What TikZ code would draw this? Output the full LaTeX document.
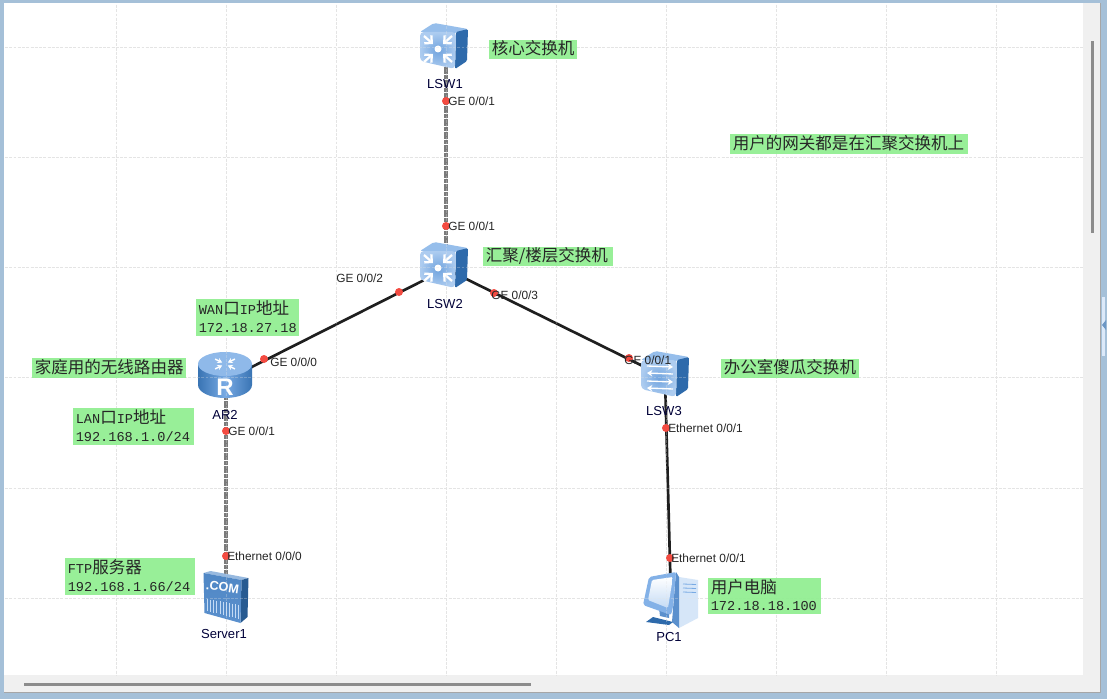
\documentclass[tikz,border=0pt]{standalone}
\usepackage{fontspec}
\setmainfont{Liberation Sans}
\newfontfamily\cjk{Noto Sans CJK SC}
\newfontfamily\monolatin{Liberation Mono}
\usetikzlibrary{arrows.meta,calc,positioning}
\definecolor{framecol}{RGB}{165,192,216}
\definecolor{barcol}{RGB}{240,240,240}
\definecolor{thumbcol}{RGB}{140,140,140}
\definecolor{gridcol}{RGB}{228,228,228}
\definecolor{notecol}{RGB}{144,238,144}
\definecolor{iconlight}{RGB}{196,219,245}
\definecolor{iconmid}{RGB}{120,170,228}
\definecolor{icondark}{RGB}{46,106,171}
\definecolor{linkgray}{RGB}{122,122,122}
\definecolor{dotred}{RGB}{243,75,65}
\tikzset{
  gridline/.style={draw=gridcol,line width=.7pt,dash pattern=on 2.2pt off 1pt},
  wirelink/.style={draw=black!88,line width=2pt},
  graylink/.style={draw=linkgray,line width=2.8pt,dash pattern=on 1.6pt off .35pt},
  portdot/.style={circle,fill=dotred,inner sep=0pt,minimum size=6pt},
  portlabel/.style={anchor=west,inner sep=0pt,font=\fontsize{8.9}{10}\selectfont,text=black!85},
  devlabel/.style={inner sep=0pt,font=\fontsize{9.8}{10}\selectfont,text=black!78!blue},
  notetext/.style={anchor=west,inner sep=0pt,align=left,text=black!85,
    font=\fontsize{12.4}{13.2}\selectfont\cjk},
}
\newcommand{\latn}[1]{{\monolatin\fontsize{10.2}{13.2}\selectfont #1}}
\newcommand{\notebox}[6]{%
  \fill[notecol,fill opacity=.92] (#2,#3) rectangle (#4,#5);
  \node[notetext] (#1) at ({#2+2.5},{(#3+#5)/2-1}) {#6};
}
\newcommand{\gridlines}[1]{%
  \foreach \gx in {116,226,336,446,556,666,776,886,996}{\draw[gridline,#1] (\gx,5) -- (\gx,675);}
  \foreach \gy in {47,157,267,377,488,598}{\draw[gridline,#1] (5,\gy) -- (1083,\gy);}
}
% block body shared by the two kinds of switch
\newcommand{\swbody}{%
  \fill[iconmid!60!iconlight,rounded corners=1.5pt] (-24,-14) -- (-10,-23) -- (24,-17) -- (12,-13) -- cycle;
  \fill[icondark,rounded corners=1pt] (12,-14) -- (24,-17) -- (23,15) -- (11,23) -- cycle;
  \shade[inner color=iconmid!90!icondark,outer color=iconlight!70!iconmid,rounded corners=3pt]
    (-24,-14) -- (12,-14) -- (11,23) -- (-24,15) -- cycle;
}
\newcommand{\coreicon}[2]{%
  \begin{scope}[shift={(#1,#2)}]
    \swbody
    \foreach \dx/\dy in {1/1,1/-1,-1/1,-1/-1}{
      \draw[white,line width=1.7pt,-{Straight Barb[length=4pt,width=8pt]}]
        ({-6+14*\dx},{3+13*\dy}) -- ({-6+5*\dx},{3+5*\dy});}
    \fill[white] (-6,3) circle (3.5);
  \end{scope}
}
\newcommand{\accessicon}[2]{%
  \begin{scope}[shift={(#1,#2)}]
    \swbody
    \foreach \ay/\tipa/\tipb in {-8/{}/{Stealth[length=4pt,width=5pt]},-1/{Stealth[length=4pt,width=5pt]}/{},
        7/{}/{Stealth[length=4pt,width=5pt]},14/{Stealth[length=4pt,width=5pt]}/{}}{
      \draw[white,line width=1pt,arrows={\tipa-\tipb}] (-18,\ay) -- (8,{\ay+1});}
  \end{scope}
}
\newcommand{\routericon}[3]{%
  \begin{scope}[shift={(#1,#2)}]
    \shade[left color=icondark!85!iconmid,right color=icondark!85!iconmid,middle color=iconmid]
      (-27,-11) -- (-27,10) arc[start angle=180,end angle=0,x radius=27,y radius=13]
      -- (27,-11) -- cycle;
    \fill[iconmid!70!iconlight] (0,-11) ellipse[x radius=27,y radius=12];
    \foreach \ra in {45,135,225,315}{
      \draw[white,line width=1.1pt,-{Stealth[length=3.5pt,width=4pt]}]
        ({14*cos(\ra)},{-11+7*sin(\ra)}) -- ({4*cos(\ra)},{-11+2*sin(\ra)});}
    \node[text=white,inner sep=0pt,font=\fontsize{18}{18}\selectfont\bfseries] (#3) at (0,12) {R};
  \end{scope}
}
\newcommand{\servericon}[3]{%
  \begin{scope}[shift={(#1,#2)}]
    \fill[iconlight!70!icondark] (-22,-24) -- (-15,-26) -- (23,-19) -- (16,-17) -- cycle;
    \fill[icondark!85!black] (16,-17) -- (23,-19) -- (22,20) -- (15,26) -- cycle;
    \shade[top color=iconmid!45!icondark,bottom color=iconmid!60!icondark]
      (-22,-24) -- (16,-17) -- (15,26) -- (-21,16) -- cycle;
    \node[text=white,inner sep=0pt,rotate=-8,font=\fontsize{9.5}{10}\selectfont\bfseries] (#3) at (-3,-10) {.COM};
    \foreach \bx in {-18,-15,-12,-9,-5,-2,1,4,7,10,13}{
      \draw[iconlight,line width=.7pt] (\bx,{2+(\bx+18)*.18}) -- (\bx,{14+(\bx+18)*.25});}
  \end{scope}
}
\newcommand{\pcicon}[2]{%
  \begin{scope}[shift={(#1,#2)}]
    \fill[iconlight!70!white] (10,-23) -- (29,-20) -- (29,18) -- (10,28) -- cycle;
    \fill[iconmid!60!icondark] (7,-28) -- (10,-23) -- (10,28) -- (3,22) -- cycle;
    \foreach \ty in {-16,-12,-8}{\draw[iconmid,line width=.6pt] (14,\ty) -- (27,{\ty+.5});}
    \fill[iconmid!60!icondark] (-10,8) -- (0,12) -- (0,18) -- (-9,16) -- cycle;
    \fill[icondark] (-16,17) -- (4,22) -- (0,25) -- (-23,22) -- cycle;
    \fill[iconmid!85!iconlight,rounded corners=1.5pt] (-20,-23) -- (7,-28) -- (4,7) -- (2,15) -- (-26,5) -- cycle;
    \shade[top color=white,bottom color=iconlight,rounded corners=1pt] (-17,-20) -- (4,-23) -- (-1,8) -- (-21,0) -- cycle;
  \end{scope}
}

\begin{document}
\begin{tikzpicture}[x=.75pt,y=-.75pt]
  \useasboundingbox (0,0) rectangle (1107,699);
  \fill[framecol] (0,0) rectangle (1107,699);
  \fill[white] (4,3) rectangle (1083,675);
  \fill[barcol] (1083,3) rectangle (1100,692);
  \fill[barcol] (4,675) rectangle (1100,692);
  \draw[black!35,line width=.8pt] (4,692.5) -- (1100.5,692.5) -- (1100.5,3);
  \fill[iconlight!60!white] (1102,297) rectangle (1105,356);
  \fill[icondark!70] (1106,320) -- (1102,325) -- (1106,330) -- cycle;
  \fill[thumbcol] (1091,41) rectangle (1093.5,233);
  \fill[thumbcol] (24,683) rectangle (531,685.5);
  \gridlines{}
  % devices as link ends
  \coordinate (lswa) at (446,46);
  \coordinate (lswb) at (446,269);
  \coordinate (lswc) at (665,377);
  \coordinate (routera) at (226,380);
  \coordinate (servera) at (226,598);
  \coordinate (pca) at (671,600);
  \draw[graylink] (lswa) -- (lswb);
  \draw[graylink] (routera) -- (servera);
  \draw[wirelink] (lswb) -- (routera);
  \draw[wirelink] (lswb) -- (lswc);
  \draw[wirelink] (lswc) -- (pca);
  \coreicon{444}{46}
  \coreicon{444}{265}
  \accessicon{665}{374}
  \routericon{225}{375}{routerr}
  \servericon{225.5}{597}{servercom}
  \pcicon{669}{600}
  \gridlines{opacity=.3}
  \node[devlabel] (namea) at (445,84) {LSW1};
  \node[devlabel] (nameb) at (445,304) {LSW2};
  \node[devlabel] (namec) at (664,411) {LSW3};
  \node[devlabel] (named) at (225,415) {AR2};
  \node[devlabel] (namee) at (224,634) {Server1};
  \node[devlabel] (namef) at (669,637) {PC1};
  % port dots and their texts
  \foreach \dotname/\dx/\dy/\tx/\ty/\porttext in {
      pa/446/101/448/101/{GE 0{/}0{/}1},
      pb/446/226/448/226/{GE 0{/}0{/}1},
      pc/399/292/336/278/{GE 0{/}0{/}2},
      pd/264/359/270/362/{GE 0{/}0{/}0},
      pe/494/293/491/295/{GE 0{/}0{/}3},
      pf/629/358/624/360/{GE 0{/}0{/}1},
      pg/226/431/228/431/{GE 0{/}0{/}1},
      ph/226/556/227/556/{Ethernet 0{/}0{/}0},
      pi/666/428/668/428/{Ethernet 0{/}0{/}1},
      pj/670/558/671/558/{Ethernet 0{/}0{/}1}}{
    \node[portdot] (\dotname) at (\dx,\dy) {};
    \node[portlabel] (\dotname t) at (\tx,\ty) {\porttext};
  }
  % green notes
  \notebox{notecore}{489}{40}{577}{59}{核心交换机}
  \notebox{notegw}{730}{134}{968}{154}{用户的网关都是在汇聚交换机上}
  \notebox{notedist}{483}{247}{613}{266}{汇聚/楼层交换机}
  \notebox{noteoffice}{721}{359}{859}{378}{办公室傻瓜交换机}
  \notebox{notehome}{32}{358}{186}{378}{家庭用的无线路由器}
  \notebox{notewan}{196}{299}{299}{336}{\latn{WAN}口\latn{IP}地址\\\latn{172.18.27.18}}
  \notebox{notelan}{73}{408}{194}{445}{\latn{LAN}口\latn{IP}地址\\\latn{192.168.1.0/24}}
  \notebox{noteftp}{65}{558}{195}{595}{\latn{FTP}服务器\\\latn{192.168.1.66/24}}
  \notebox{notepc}{708}{578}{821}{614}{用户电脑\\\latn{172.18.18.100}}
\end{tikzpicture}
\end{document}
